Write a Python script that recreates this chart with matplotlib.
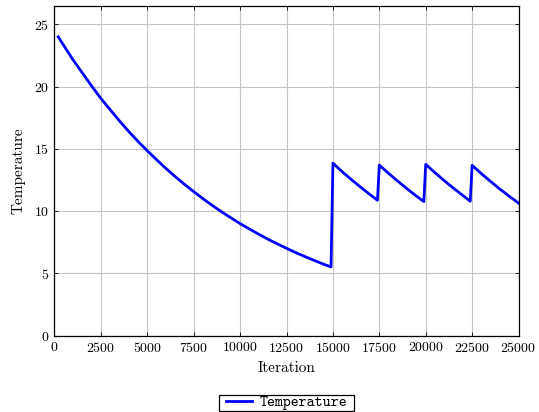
import numpy as np
import matplotlib.pyplot as plt
from matplotlib.path import Path

plt.rcParams['font.family'] = 'cmr10'
plt.rcParams['mathtext.fontset'] = 'cm'
plt.rcParams['axes.formatter.use_mathtext'] = True

# temperature schedule, cooling run then reheats at 15000, 17500, 20000, 22500
iteration = [200, 500, 1000, 1500, 2000, 2500, 3000, 3500, 4000, 4500, 5000,
             5500, 6000, 6500, 7000, 7500, 8000, 8500, 9000, 9500, 10000,
             10500, 11000, 11500, 12000, 12500, 13000, 13500, 14000, 14500, 14900,
             15000, 15500, 16000, 16500, 17000, 17400,
             17500, 18000, 18500, 19000, 19500, 19900,
             20000, 20500, 21000, 21500, 22000, 22400,
             22500, 23000, 23500, 24000, 24500, 25000]
temperature = [24.0, 23.3, 22.15, 21.1, 20.05, 19.05, 18.15, 17.25, 16.4, 15.6, 14.85,
               14.13, 13.44, 12.78, 12.16, 11.57, 11.0, 10.46, 9.95, 9.47, 9.0,
               8.57, 8.15, 7.75, 7.38, 7.02, 6.67, 6.35, 6.04, 5.74, 5.52,
               13.85, 13.17, 12.53, 11.92, 11.33, 10.88,
               13.7, 13.03, 12.4, 11.79, 11.21, 10.77,
               13.76, 13.09, 12.45, 11.84, 11.26, 10.8,
               13.68, 13.01, 12.38, 11.77, 11.2, 10.65]

xticks = np.arange(0, 25001, 2500)
yticks = [0, 5, 10, 15, 20, 25]


def wide_box(x0, y0, width, height, mutation_size):
    # legend frame: roomy left/right, tight top/bottom
    px, py = 0.45 * mutation_size, 0.03 * mutation_size
    x1, y1 = x0 + width + px, y0 + height + py
    x0, y0 = x0 - px, y0 - py
    return Path([(x0, y0), (x1, y0), (x1, y1), (x0, y1), (x0, y0)], closed=True)


fig = plt.figure(figsize=(5.39, 4.12), dpi=100)
ax = fig.add_axes([0.1011, 0.1852, 0.8609, 0.8010])

ax.plot(iteration, temperature, color='blue', lw=2, label='Temperature', zorder=3)

ax.set_xlim(0, 25000)
ax.set_ylim(0, 26.5)
ax.set_xticks(xticks)
ax.set_yticks(yticks)
ax.grid(True, color='#c4c4c4', lw=0.8)
ax.set_axisbelow(True)
ax.tick_params(direction='in', top=True, right=True, length=3, width=0.6, labelsize=10, pad=4)
for s in ax.spines.values():
    s.set_linewidth(0.9)

ax.set_xlabel('Iteration', fontsize=11, labelpad=4)
ax.set_ylabel('Temperature', fontsize=11, labelpad=6)

leg = ax.legend(loc='center', bbox_to_anchor=(0.501, -0.2035), fancybox=False, edgecolor='black',
                framealpha=1, handlelength=1.7, handletextpad=0.5, borderpad=0,
                borderaxespad=0, prop={'family': 'cmtt10', 'size': 11})
leg.get_frame().set_linewidth(0.9)
leg.get_frame().set_boxstyle(wide_box)

fig.savefig('out.png', dpi=100)
